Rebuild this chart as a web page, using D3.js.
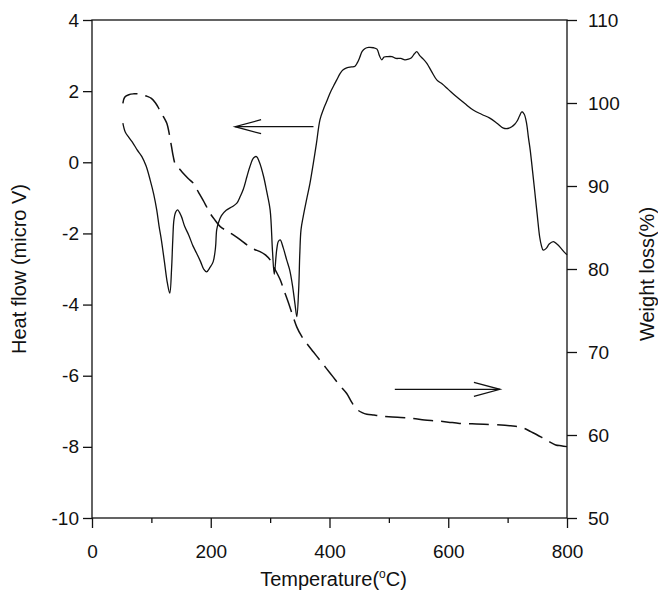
<!DOCTYPE html>
<html>
<head>
<meta charset="utf-8">
<script src="https://cdn.jsdelivr.net/npm/d3@7"></script>
<style>
    body { margin: 0; background: #ffffff; }
    text { font-family: "Liberation Sans", Arial, sans-serif; fill: #111; }
</style>
</head>
<body>
<div class="chart"></div>
<script>
// heat flow (DTA) curve, left axis: [temperature, micro V]
const heatFlow = [
    [52, 1.1], [56, 0.85], [62, 0.7], [69, 0.54], [76, 0.35], [84, 0.16], [91, -0.1], [98, -0.5],
    [104, -0.9], [109, -1.34], [113, -1.8], [117, -2.2], [122, -2.8], [127, -3.4], [131, -3.68],
    [134, -3.0], [136, -2.2], [138, -1.62], [141, -1.4], [144, -1.34], [150, -1.5], [156, -1.8],
    [163, -2.05], [170, -2.35], [176, -2.55], [183, -2.8], [188, -3.0], [193, -3.08], [199, -2.95],
    [204, -2.8], [208, -2.4], [210, -1.9], [213, -1.7], [218, -1.5], [226, -1.35], [236, -1.25],
    [244, -1.15], [250, -0.95], [255, -0.75], [261, -0.4], [266, -0.12], [272, 0.12], [277, 0.16],
    [282, 0.0], [289, -0.4], [294, -0.8], [300, -1.34], [304, -2.5], [307, -3.15], [311, -2.47],
    [314, -2.22], [317, -2.18], [322, -2.4], [328, -2.75], [333, -3.03], [338, -3.5], [342, -4.0],
    [345, -4.34], [348, -3.6], [350, -2.56], [352, -1.9], [356, -1.5], [362, -1.0], [367, -0.6],
    [373, 0.0], [378, 0.53], [384, 1.2], [390, 1.5], [395, 1.7], [401, 1.95], [407, 2.15],
    [412, 2.31], [418, 2.5], [423, 2.6], [430, 2.66], [437, 2.68], [443, 2.7], [447, 2.8],
    [451, 2.95], [455, 3.12], [460, 3.2], [466, 3.23], [474, 3.22], [480, 3.18], [484, 3.0],
    [488, 2.88], [492, 2.96], [497, 2.97], [505, 2.97], [512, 2.92], [520, 2.92], [527, 2.88],
    [533, 2.9], [538, 2.94], [543, 3.05], [547, 3.11], [552, 3.0], [558, 2.9], [564, 2.78],
    [572, 2.55], [581, 2.31], [590, 2.2], [600, 2.05], [614, 1.84], [628, 1.65], [642, 1.47],
    [656, 1.35], [670, 1.24], [682, 1.1], [693, 0.96], [700, 0.95], [707, 1.0], [712, 1.07],
    [716, 1.16], [720, 1.3], [724, 1.42], [728, 1.35], [732, 1.09], [735, 0.7], [738, 0.35],
    [742, -0.25], [746, -0.87], [750, -1.5], [754, -2.1], [757, -2.35], [760, -2.47], [765, -2.42],
    [770, -2.3], [777, -2.23], [783, -2.3], [790, -2.42], [795, -2.52], [800, -2.6]
];

// weight loss (TG) curve, right axis: [temperature, %]
const weightLoss = [
    [52, 99.96], [55, 100.7], [62, 101.0], [70, 101.1], [78, 101.1], [86, 100.96], [93, 100.8],
    [100, 100.56], [107, 100.0], [114, 99.16], [120, 98.4], [126, 97.55], [131, 95.94], [134, 94.7],
    [137, 93.5], [140, 92.7], [147, 92.1], [154, 91.5], [162, 90.9], [171, 90.3], [179, 89.3],
    [187, 88.3], [193, 87.5], [199, 86.7], [207, 85.9], [216, 85.1], [227, 84.6], [238, 84.1],
    [250, 83.5], [261, 82.9], [272, 82.4], [283, 82.1], [292, 81.7], [300, 81.1], [308, 80.0],
    [317, 78.7], [324, 77.3], [331, 75.9], [338, 74.4], [345, 73.0], [353, 71.9], [362, 71.0],
    [373, 70.0], [384, 69.0], [395, 68.0], [406, 67.0], [417, 66.0], [429, 65.0], [437, 64.0],
    [446, 63.1], [455, 62.7], [463, 62.5], [475, 62.4], [485, 62.3], [500, 62.2], [520, 62.1],
    [541, 62.0], [560, 61.8], [580, 61.7], [600, 61.55], [619, 61.4], [640, 61.35], [660, 61.3],
    [689, 61.2], [705, 61.1], [718, 61.0], [728, 60.8], [739, 60.4], [750, 60.0], [760, 59.6],
    [770, 59.2], [781, 58.8], [790, 58.7], [800, 58.6]
];

const xTicks = [0, 200, 400, 600, 800];
const xMinorTicks = [100, 300, 500, 700];
const leftTicks = [-10, -8, -6, -4, -2, 0, 2, 4];
const rightTicks = [50, 60, 70, 80, 90, 100, 110];

// arrows telling which axis each curve belongs to
const heatArrow = {x0: 373, x1: 241, y: 1.0};
const weightArrow = {x0: 510, x1: 687, y: 65.5};

init();

function init() {
    let margin = {top: 20, right: 91, bottom: 84, left: 92},
        width = 658,
        height = 602,
        innerW = width - margin.left - margin.right,
        innerH = height - margin.top - margin.bottom;

    let svg = d3.select(".chart")
        .append("svg")
        .attr("width", width)
        .attr("height", height)
        .append("g")
        .attr("transform", "translate(" + margin.left + "," + margin.top + ")");

    const x = d3.scaleLinear().domain([0, 800]).range([0, innerW]);
    const yLeft = d3.scaleLinear().domain([-10, 4]).range([innerH, 0]);
    const yRight = d3.scaleLinear().domain([50, 110]).range([innerH, 0]);

    // plain hyphen for negatives, like the original
    const plain = d => String(d);

    // frame
    svg.append("rect")
        .attr("width", innerW)
        .attr("height", innerH)
        .attr("fill", "none")
        .attr("stroke", "#111")
        .attr("stroke-width", 1.3);

    // bottom axis with minor ticks
    svg.append("g")
        .attr("transform", "translate(0," + innerH + ")")
        .call(d3.axisBottom(x).tickValues(xTicks).tickSize(10).tickPadding(17).tickFormat(plain));
    svg.append("g")
        .attr("transform", "translate(0," + innerH + ")")
        .call(d3.axisBottom(x).tickValues(xMinorTicks).tickSize(5).tickFormat(""));

    svg.append("g")
        .call(d3.axisLeft(yLeft).tickValues(leftTicks).tickSize(9).tickPadding(4).tickFormat(plain));

    svg.append("g")
        .attr("transform", "translate(" + innerW + ",0)")
        .call(d3.axisRight(yRight).tickValues(rightTicks).tickSize(10).tickPadding(11).tickFormat(plain));

    svg.selectAll(".domain").remove();
    svg.selectAll(".tick line").attr("stroke", "#111").attr("stroke-width", 1.3);
    svg.selectAll(".tick text")
        .attr("font-size", "19px")
        .attr("fill", "#111");

    // curves
    const heatLine = d3.line()
        .x(d => x(d[0]))
        .y(d => yLeft(d[1]))
        .curve(d3.curveCatmullRom.alpha(0.5));

    const weightLine = d3.line()
        .x(d => x(d[0]))
        .y(d => yRight(d[1]))
        .curve(d3.curveCatmullRom.alpha(0.5));

    svg.append("path")
        .datum(heatFlow)
        .attr("d", heatLine)
        .attr("fill", "none")
        .attr("stroke", "#111")
        .attr("stroke-width", 1.3);

    svg.append("path")
        .datum(weightLoss)
        .attr("d", weightLine)
        .attr("fill", "none")
        .attr("stroke", "#111")
        .attr("stroke-width", 1.5)
        .attr("stroke-dasharray", "20,8");

    // arrows
    drawArrow(svg, x(heatArrow.x0), x(heatArrow.x1), yLeft(heatArrow.y));
    drawArrow(svg, x(weightArrow.x0), x(weightArrow.x1), yRight(weightArrow.y));

    // axis titles
    svg.append("text")
        .attr("x", innerW / 2 + 4)
        .attr("y", innerH + 68)
        .attr("text-anchor", "middle")
        .attr("font-size", "20px")
        .html('Temperature(<tspan dy="-8" font-size="12px">o</tspan><tspan dy="8">C)</tspan>');

    svg.append("text")
        .attr("transform", "translate(" + (-66) + "," + (innerH / 2) + ") rotate(-90)")
        .attr("text-anchor", "middle")
        .attr("font-size", "20px")
        .text("Heat flow (micro V)");

    svg.append("text")
        .attr("transform", "translate(" + (innerW + 87) + "," + (innerH / 2 + 5) + ") rotate(-90)")
        .attr("text-anchor", "middle")
        .attr("font-size", "20px")
        .text("Weight loss(%)");
}

function drawArrow(svg, fromX, toX, y) {
    const dir = toX > fromX ? 1 : -1,
        headLen = 26,
        headHalf = 7;

    svg.append("line")
        .attr("x1", fromX)
        .attr("x2", toX)
        .attr("y1", y)
        .attr("y2", y)
        .attr("stroke", "#111")
        .attr("stroke-width", 1.3);

    svg.append("path")
        .attr("d", "M" + (toX - dir * headLen) + "," + (y - headHalf) +
            "L" + toX + "," + y +
            "L" + (toX - dir * headLen) + "," + (y + headHalf))
        .attr("fill", "none")
        .attr("stroke", "#111")
        .attr("stroke-width", 1.3);
}
</script>
</body>
</html>
